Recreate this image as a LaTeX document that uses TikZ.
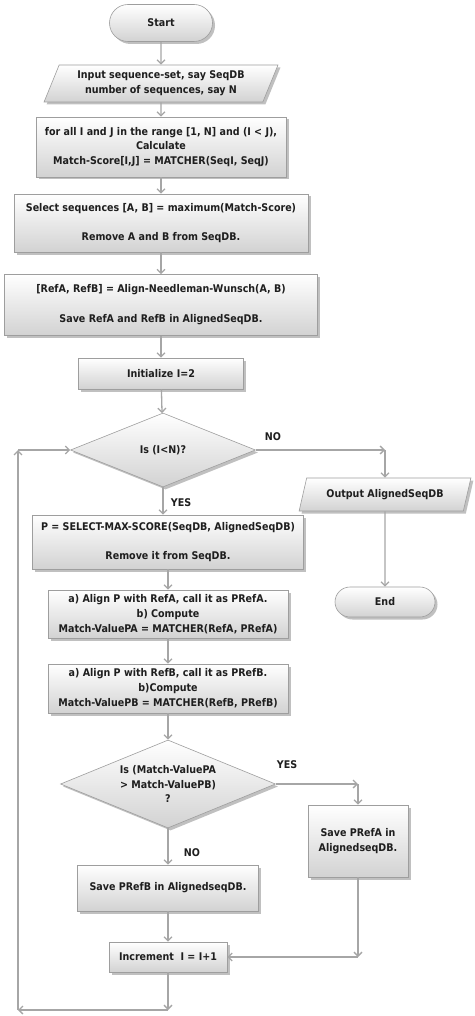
\documentclass[tikz,border=0pt]{standalone}
\usepackage{fontspec}
\newfontfamily\flowfont{DejaVu Sans Condensed}[BoldFont={DejaVu Sans Condensed Bold}]
\usetikzlibrary{arrows.meta,shapes.geometric,shapes.misc,shadows}
\definecolor{boxline}{HTML}{9E9E9E}
\definecolor{boxfill}{HTML}{D2D2D2}
\definecolor{flowline}{HTML}{A6A6A6}
\definecolor{flowtext}{HTML}{1E1E1E}
\tikzset{
	flowfont/.style={font=\flowfont\bfseries\fontsize{10.6}{14.8}\selectfont, text=flowtext},
	shaded/.style={draw=boxline, line width=0.6pt, top color=white, bottom color=boxfill, drop shadow={shadow xshift=2.5pt, shadow yshift=-2.5pt, opacity=0.35, fill=black!70}},
	flowbox/.style={rectangle, shaded, flowfont, align=center, inner sep=1pt},
	terminal/.style={rounded rectangle, shaded, flowfont, inner sep=1pt},
	inout/.style={trapezium, trapezium left angle=65, trapezium right angle=115, trapezium stretches=true, shaded, flowfont, align=center, inner sep=1pt},
	choice/.style={diamond, aspect=2.5, shaded, flowfont, align=center, inner sep=0pt},
	flow/.style={draw=flowline, line width=1.3pt, -{Straight Barb[length=4pt,width=8pt]}},
	lbl/.style={flowfont}
}

\begin{document}
\begin{tikzpicture}[x=1pt,y=-1pt]
			%%%%% START %%%%%
			\useasboundingbox (0,0) rectangle (474,1016);
			\fill[white] (0,0) rectangle (474,1016);
			
			% main column
			\node[terminal, minimum width=105, minimum height=37] (start) at (161,23) {Start};
			\node[inout, minimum width=234, minimum height=37] (input) at (161,83.5) {Input sequence-set, say SeqDB\\number of sequences, say N};
			\node[flowbox, minimum width=250, minimum height=60] (calc) at (161,147) {for all I and J in the range [1, N] and (I < J),\\Calculate\\Match-Score[I,J] = MATCHER(SeqI, SeqJ)};
			\node[flowbox, minimum width=294, minimum height=58] (select) at (161,223) {Select sequences [A, B] = maximum(Match-Score)\\[14pt]Remove A and B from SeqDB.};
			\node[flowbox, minimum width=313, minimum height=61] (needle) at (161,305) {[RefA, RefB] = Align-Needleman-Wunsch(A, B)\\[15pt]Save RefA and RefB in AlignedSeqDB.};
			\node[flowbox, minimum width=165, minimum height=31] (init) at (161,373.5) {Initialize I=2};
			\node[choice, minimum width=185, minimum height=74] (less) at (163,450) {Is (I<N)?};
			
			% exit branch
			\node[inout, minimum width=172, minimum height=33] (output) at (385,494.5) {Output AlignedSeqDB};
			\node[terminal, minimum width=102, minimum height=30] (end) at (385,602) {End};
			
			% loop body
			\node[flowbox, minimum width=271, minimum height=54] (pick) at (168,542) {P = SELECT-MAX-SCORE(SeqDB, AlignedSeqDB)\\[15pt]Remove it from SeqDB.};
			\node[flowbox, minimum width=240, minimum height=48] (aligna) at (168,614) {a) Align P with RefA, call it as PRefA.\\b) Compute\\Match-ValuePA = MATCHER(RefA, PRefA)};
			\node[flowbox, minimum width=240, minimum height=49] (alignb) at (168,688.5) {a) Align P with RefB, call it as PRefB.\\b)Compute\\Match-ValuePB = MATCHER(RefB, PRefB)};
			\node[choice, minimum width=215, minimum height=88] (cmp) at (168,784) {Is (Match-ValuePA\\> Match-ValuePB)\\?};
			\node[flowbox, minimum width=100, minimum height=72] (savea) at (358,841) {Save PRefA in\\AlignedseqDB.};
			\node[flowbox, minimum width=181, minimum height=46] (saveb) at (168,888) {Save PRefB in AlignedseqDB.};
			\node[flowbox, minimum width=118, minimum height=30] (incr) at (168,957) {Increment~ I = I+1};
			
			% labels
			\node[lbl] (nolbl) at (273,437) {NO};
			\node[lbl] (yeslbl) at (181,503) {YES};
			\node[lbl] (yestwo) at (287,765) {YES};
			\node[lbl] (notwo) at (192,853) {NO};
			
			% bends
			\coordinate (nobend) at (output.north |- less.east);
			\coordinate (yesbend) at (savea.north |- cmp.east);
			\coordinate (backbend) at (savea.south |- incr.east);
			\coordinate (loopa) at (168,1010);
			\coordinate (loopb) at (18,1010);
			\coordinate (loopc) at (loopb |- less.west);
			
			% connectors
			\draw[flow] (start) -- (input);
			\draw[flow] (input) -- (calc);
			\draw[flow] (calc) -- (select);
			\draw[flow] (select) -- (needle);
			\draw[flow] (needle) -- (init);
			\draw[flow] (init) -- (less);
			\draw[flow] (less.east) -- (nobend);
			\draw[flow] (nobend) -- (output.north);
			\draw[flow] (output) -- (end);
			\draw[flow] (less.south) -- (less.south |- pick.north);
			\draw[flow] (pick) -- (aligna);
			\draw[flow] (aligna) -- (alignb);
			\draw[flow] (alignb) -- (cmp);
			\draw[flow] (cmp.east) -- (yesbend);
			\draw[flow] (yesbend) -- (savea.north);
			\draw[flow] (cmp) -- (saveb);
			\draw[flow] (saveb) -- (incr);
			\draw[flow] (savea.south) -- (backbend);
			\draw[flow] (backbend) -- (incr.east);
			\draw[flow] (incr) -- (loopa);
			\draw[flow] (loopa) -- (loopb);
			\draw[flow] (loopb) -- (loopc);
			\draw[flow] (loopc) -- (less.west);
			
			%%%%% END %%%%%
\end{tikzpicture}
\end{document}
